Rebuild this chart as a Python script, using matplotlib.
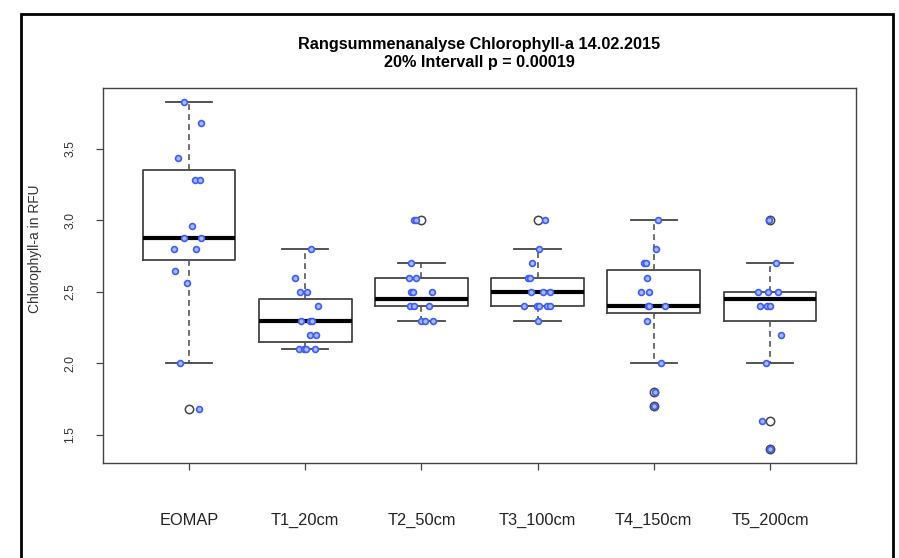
import matplotlib
matplotlib.use("Agg")
import matplotlib.pyplot as plt
from matplotlib.patches import Rectangle

plt.rcParams['font.family'] = ['Liberation Sans', 'DejaVu Sans']

groups = ["EOMAP", "T1_20cm", "T2_50cm", "T3_100cm", "T4_150cm", "T5_200cm"]

# box statistics as drawn in the original
whis_lo = [2.00, 2.10, 2.30, 2.30, 2.00, 2.00]
q1 = [2.72, 2.15, 2.40, 2.40, 2.35, 2.30]
median = [2.875, 2.30, 2.45, 2.50, 2.40, 2.45]
q3 = [3.355, 2.45, 2.60, 2.60, 2.65, 2.50]
whis_hi = [3.83, 2.80, 2.70, 2.80, 3.00, 2.70]
outliers = [[1.68], [], [3.0], [3.0], [1.8, 1.7], [3.0, 1.6, 1.4]]

eomap = [3.83, 3.68, 3.44, 3.28, 3.28, 2.96, 2.875, 2.875, 2.80, 2.80, 2.645, 2.565, 2.00, 1.68]
eomap_jit = [-0.043, 0.107, -0.095, 0.05, 0.098, 0.026, -0.046, 0.107, -0.129, 0.058, -0.123, -0.017, -0.08, 0.09]
t1 = [2.8, 2.6, 2.5, 2.5, 2.4, 2.3, 2.3, 2.3, 2.2, 2.2, 2.1, 2.1, 2.1, 2.1]
t1_jit = [0.046, -0.092, -0.046, 0.017, 0.106, -0.032, 0.043, 0.06, 0.043, 0.095, -0.054, -0.006, 0.009, 0.083]
t2 = [3.0, 3.0, 2.7, 2.6, 2.6, 2.5, 2.5, 2.5, 2.4, 2.4, 2.4, 2.3, 2.3, 2.3]
t2_jit = [-0.063, -0.049, -0.092, -0.106, -0.043, -0.086, -0.072, 0.092, -0.10, -0.066, 0.066, 0.0, 0.029, 0.10]
t3 = [3.0, 2.8, 2.7, 2.6, 2.6, 2.5, 2.5, 2.5, 2.4, 2.4, 2.4, 2.4, 2.4, 2.3]
t3_jit = [0.066, 0.009, -0.049, -0.086, -0.069, -0.054, 0.043, 0.109, -0.115, -0.006, 0.009, 0.08, 0.109, 0.0]
t4 = [3.0, 2.8, 2.7, 2.7, 2.6, 2.5, 2.5, 2.4, 2.4, 2.4, 2.3, 2.0, 1.8, 1.7]
t4_jit = [0.037, 0.023, -0.083, -0.063, -0.057, -0.112, -0.04, -0.049, -0.04, 0.095, -0.057, 0.06, 0.009, 0.0]
t5 = [3.0, 2.7, 2.5, 2.5, 2.5, 2.4, 2.4, 2.4, 2.2, 2.0, 1.6, 1.4]
t5_jit = [-0.006, 0.049, -0.10, -0.02, 0.072, -0.086, -0.023, 0.0, 0.092, -0.034, -0.072, 0.0]

values = [eomap, t1, t2, t3, t4, t5]
jitter = [eomap_jit, t1_jit, t2_jit, t3_jit, t4_jit, t5_jit]

W, H = 899, 558
fig = plt.figure(figsize=(W / 100, H / 100), dpi=100)
ax = fig.add_axes([103 / W, 1 - 463 / H, (856 - 103) / W, (463 - 88) / H])

stats = []
for i, g in enumerate(groups):
    stats.append(dict(label=g, whislo=whis_lo[i], q1=q1[i], med=median[i],
                      q3=q3[i], whishi=whis_hi[i], fliers=outliers[i]))

pos = list(range(1, len(groups) + 1))
ax.bxp(stats, positions=pos, widths=0.8, capwidths=0.4,
       boxprops=dict(color='#444444', linewidth=1.3),
       medianprops=dict(color='black', linewidth=3),
       whiskerprops=dict(color='#555555', linewidth=1.2, linestyle=(0, (3.5, 2.5))),
       capprops=dict(color='#444444', linewidth=1.3),
       flierprops=dict(marker='o', markerfacecolor='none', markeredgecolor='#444444',
                       markersize=6, markeredgewidth=1.1))

for p, vals, jit in zip(pos, values, jitter):
    ax.plot([p + j for j in jit], vals, linestyle='none', marker='o', markersize=4.2,
            markerfacecolor='#a9b9ff', markeredgecolor='#3f5cf5', markeredgewidth=1.2, zorder=5)

allv = [v for vals in values for v in vals]
lo, hi = min(allv), max(allv)
pad = 0.04 * (hi - lo)
ax.set_ylim(lo - pad, hi + pad)
ax.set_xlim(0.26, 6.74)

ax.set_xticks(pos)
ax.set_xticklabels(groups, fontsize=11.8, color='#222222')
ax.set_yticks([1.5, 2.0, 2.5, 3.0, 3.5])
ax.set_yticklabels(['1.5', '2.0', '2.5', '3.0', '3.5'], fontsize=8.8, color='#333333',
                   rotation=90, va='center')
ax.tick_params(axis='x', length=5, width=0.9, color='#444444', pad=31)
ax.tick_params(axis='y', length=5, width=0.9, color='#444444', pad=14)
for s in ax.spines.values():
    s.set_color('#444444')
    s.set_linewidth(1.0)

# y axis title
fig.text(35 / W, 1 - 249 / H, 'Chlorophyll-a in RFU', rotation=90,
         ha='center', va='center', fontsize=9.9, color='#333333')

fig.text(479 / W, 1 - 44 / H, 'Rangsummenanalyse Chlorophyll-a 14.02.2015',
         ha='center', va='center', fontsize=11.7, fontweight='bold')
fig.text(479 / W, 1 - 62 / H, '20% Intervall p = 0.00019',
         ha='center', va='center', fontsize=11.7, fontweight='bold')

# outer frame of the exported graphic
fig.patches.append(Rectangle((21 / W, -0.05), (893 - 21) / W, 1.05 - 14 / H,
                             transform=fig.transFigure, fill=False,
                             edgecolor='black', linewidth=2, clip_on=False))

fig.savefig('out.png', dpi=100)
